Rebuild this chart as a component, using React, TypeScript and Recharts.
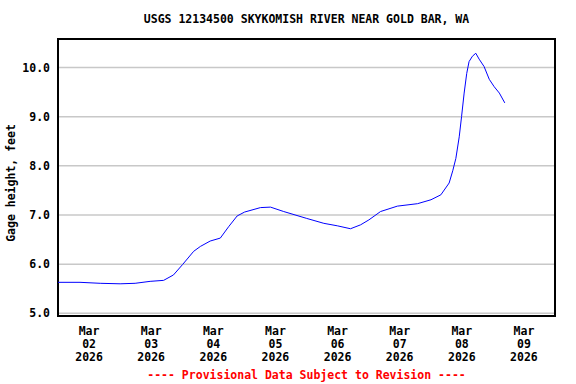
import { LineChart, Line, XAxis, YAxis, CartesianGrid, ReferenceArea } from 'recharts'

// hours since Mar 02 2026 00:00 and gage height in feet
const hours = [
  0, 8.5, 16.3, 24, 29.8, 35.6, 40.8, 44.6, 48.1, 52.4, 55, 58.8, 62.7, 65.9, 69.2, 72.1,
  78.2, 82.1, 87.2, 96.1, 102.7, 107.9, 113, 116.9, 120.1, 124.6, 131.1, 138.9, 144.1,
  147.9, 151.1, 152.5, 153.7, 155, 155.9, 156.9, 157.9, 158.8, 160.1, 161.4, 162.7,
  164.6, 166.6, 168.5, 170.5, 172.6,
]
const gageFeet = [
  5.63, 5.63, 5.61, 5.6, 5.61, 5.65, 5.67, 5.78, 5.99, 6.26, 6.36, 6.47, 6.53, 6.76, 6.98, 7.06,
  7.15, 7.16, 7.07, 6.93, 6.83, 6.78, 6.72, 6.8, 6.9, 7.07, 7.18, 7.23, 7.31,
  7.41, 7.65, 7.9, 8.15, 8.59, 9.0, 9.48, 9.88, 10.12, 10.23, 10.29, 10.17,
  10.02, 9.76, 9.61, 9.48, 9.28,
]

const dayTicks = [0, 24, 48, 72, 96, 120, 144, 168, 192]
const labelTicks = [12, 36, 60, 84, 108, 132, 156, 180]
const dayLabels = ['02', '03', '04', '05', '06', '07', '08', '09']
const yTicks = [5, 6, 7, 8, 9, 10]
const yDomain: [number, number] = [4.945, 10.58]

const data = hours.map((h, i) => ({ h, v: gageFeet[i] }))

const font = '"DejaVu Sans Mono", monospace'

const DayTick = (props: any) => {
  const { x, y, payload } = props
  const idx = labelTicks.indexOf(payload.value)
  return (
    <g transform={`translate(${x},${y})`}>
      <text textAnchor="middle" fontFamily={font} fontWeight="bold" fontSize={11.5} fill="#000">
        <tspan x={0} y={11}>Mar</tspan>
        <tspan x={0} y={24}>{dayLabels[idx]}</tspan>
        <tspan x={0} y={37}>2026</tspan>
      </text>
    </g>
  )
}

export default function App() {
  return (
    <div style={{ position: 'absolute', left: 0, top: 0, width: 576, height: 384, background: '#fff' }}>
      <LineChart width={576} height={384} data={data} margin={{ top: 39, right: 21, left: 0, bottom: 0 }}>
        <CartesianGrid xAxisId="days" stroke="#c8c8c8" strokeWidth={1.5} />
        <XAxis
          dataKey="h"
          type="number"
          domain={[0, 192]}
          ticks={labelTicks}
          interval={0}
          tick={<DayTick />}
          tickLine={false}
          axisLine={false}
          height={68}
        />
        <XAxis
          xAxisId="days"
          dataKey="h"
          type="number"
          domain={[0, 192]}
          ticks={dayTicks}
          interval={0}
          tick={false}
          tickLine={false}
          axisLine={false}
          height={0}
        />
        <YAxis
          type="number"
          domain={yDomain}
          allowDataOverflow
          ticks={yTicks}
          interval={0}
          tickLine={false}
          axisLine={false}
          width={58}
          tickFormatter={(v: number) => v.toFixed(1)}
          tick={{ fontFamily: font, fontWeight: 'bold', fontSize: 11.5, fill: '#000' }}
        />
        <ReferenceArea
          x1={0}
          x2={192}
          y1={yDomain[0]}
          y2={yDomain[1]}
          fill="none"
          stroke="#000"
          strokeWidth={2}
          ifOverflow="visible"
        />
        <Line
          dataKey="v"
          type="linear"
          stroke="#0000ff"
          strokeWidth={1}
          dot={false}
          isAnimationActive={false}
        />
      </LineChart>
      <svg width={576} height={384} style={{ position: 'absolute', left: 0, top: 0, pointerEvents: 'none' }}>
        <text x={306.5} y={23} textAnchor="middle" fontFamily={font} fontWeight="bold" fontSize={11.5} fill="#000">
          USGS 12134500 SKYKOMISH RIVER NEAR GOLD BAR, WA
        </text>
        <text
          transform="translate(15,183) rotate(-90)"
          textAnchor="middle"
          fontFamily={font}
          fontWeight="bold"
          fontSize={11.5}
          fill="#000"
        >
          Gage height, feet
        </text>
        <text x={306.5} y={379} textAnchor="middle" fontFamily={font} fontWeight="bold" fontSize={11.5} fill="#ff0000">
          ---- Provisional Data Subject to Revision ----
        </text>
      </svg>
    </div>
  )
}
